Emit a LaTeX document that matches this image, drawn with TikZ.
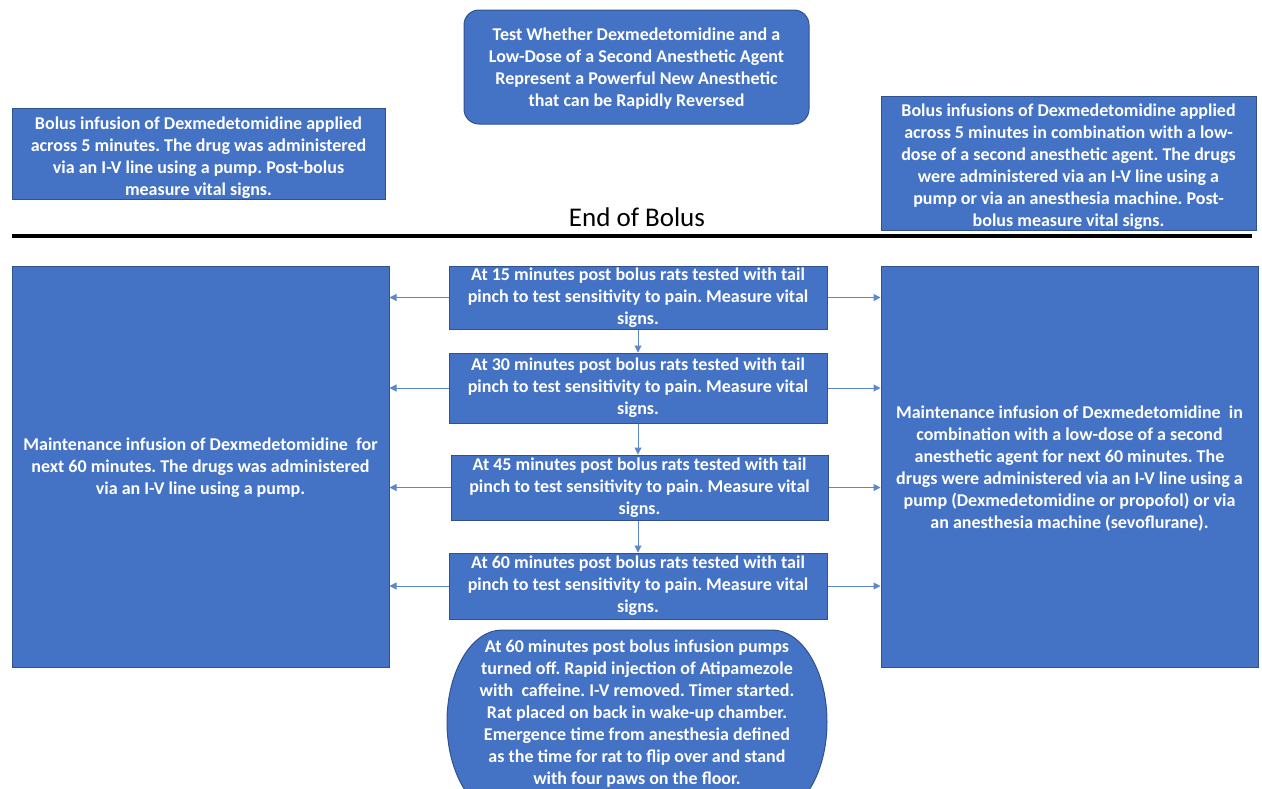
\documentclass[tikz,border=0pt]{standalone}
\usepackage{fontspec}
\setmainfont{Carlito}
\usetikzlibrary{arrows.meta}
\definecolor{fillb}{HTML}{4472C4}
\definecolor{edgeb}{HTML}{2F528F}
\definecolor{arrb}{HTML}{5B87CF}
\frenchspacing
\newcommand\lowerby[1]{\rule{0pt}{#1}}
\begin{document}
\begin{tikzpicture}[x=1pt,y=-1pt,
  box/.style={draw=edgeb, line width=1pt, fill=fillb, text=white,
    font=\bfseries\fontsize{18}{22}\selectfont, align=center, inner sep=0pt},
  arr/.style={draw=arrb, line width=1pt, -{Triangle[length=7pt,width=7pt]}}]
\useasboundingbox (0,0) rectangle (1262,788);
\begin{scope}
\clip (0,0) rectangle (1262,788);
\draw[draw=edgeb, line width=1pt, fill=fillb]
  (502,630) -- (772,630) arc[start angle=-90, end angle=90, x radius=55, y radius=92]
  -- (502,814) arc[start angle=90, end angle=270, x radius=55, y radius=92] -- cycle;
\node[text=white, font=\bfseries\fontsize{18}{22}\selectfont, align=center, inner sep=0pt] (oval) at (637,714)
 {At 60 minutes post bolus infusion pumps\\turned off. Rapid injection of Atipamezole\\with\ \ caffeine. I-V removed. Timer started.\\Rat placed on back in wake-up chamber.\\Emergence time from anesthesia defined\\as the time for rat to flip over and stand\\with four paws on the floor.};
\end{scope}

\node[box, rounded corners=15pt, minimum width=345pt, minimum height=114pt] (goal) at (636.5,67)
 {\lowerby{16pt}Test Whether Dexmedetomidine and a\\Low-Dose of a Second Anesthetic Agent\\Represent a Powerful New Anesthetic\\that can be Rapidly Reversed};

\node[box, minimum width=373pt, minimum height=91pt] (bolusL) at (198.5,153.5)
 {\lowerby{21pt}Bolus infusion of Dexmedetomidine applied\\across 5 minutes. The drug was administered\\via an I-V line using a pump. Post-bolus\\measure vital signs.};

\node[box, minimum width=375pt, minimum height=134pt] (bolusR) at (1068.5,163)
 {\lowerby{20pt}Bolus infusions of Dexmedetomidine applied\\across 5 minutes in combination with a low-\\dose of a second anesthetic agent. The drugs\\were administered via an I-V line using a\\pump or via an anesthesia machine. Post-\\bolus measure vital signs.};

\node[font=\fontsize{27}{30}\selectfont, inner sep=0pt] (endb) at (637,217) {End of Bolus};
\coordinate (lineL) at (12,236);
\coordinate (lineR) at (1252,236);
\draw[line width=4pt, black] (lineL) -- (lineR);

\node[box, minimum width=377pt, minimum height=401pt] (maintL) at (200.5,466.5)
 {\lowerby{16pt}Maintenance infusion of Dexmedetomidine\ \ for\\next 60 minutes. The drugs was administered\\via an I-V line using a pump.};

\node[box, minimum width=377pt, minimum height=401pt] (maintR) at (1069.5,466.5)
 {\lowerby{16pt}Maintenance infusion of Dexmedetomidine\ \ in\\combination with a low-dose of a second\\anesthetic agent for next 60 minutes. The\\drugs were administered via an I-V line using a\\pump (Dexmedetomidine or propofol) or via\\an anesthesia machine (sevoflurane).};

\node[box, minimum width=378pt, minimum height=63pt] (t15) at (638,297.5)
 {At 15 minutes post bolus rats tested with tail\\pinch to test sensitivity to pain. Measure vital\\signs.};
\node[box, minimum width=378pt, minimum height=70pt] (t30) at (638,388)
 {At 30 minutes post bolus rats tested with tail\\pinch to test sensitivity to pain. Measure vital\\signs.};
\node[box, minimum width=377pt, minimum height=65pt] (t45) at (639.5,487.5)
 {At 45 minutes post bolus rats tested with tail\\pinch to test sensitivity to pain. Measure vital\\signs.};
\node[box, minimum width=378pt, minimum height=66pt] (t60) at (638,586)
 {At 60 minutes post bolus rats tested with tail\\pinch to test sensitivity to pain. Measure vital\\signs.};

\draw[arr] (t15.south) -- (t30.north);
\draw[arr] (t30.south) -- (t45.north -| t30.south);
\draw[arr] (t45.south -| t60.north) -- (t60.north);

\foreach \n in {t15,t30,t45,t60}{
  \draw[arr] (\n.west) -- (\n.west -| maintL.east);
  \draw[arr] (\n.east) -- (\n.east -| maintR.west);
}
\end{tikzpicture}
\end{document}
